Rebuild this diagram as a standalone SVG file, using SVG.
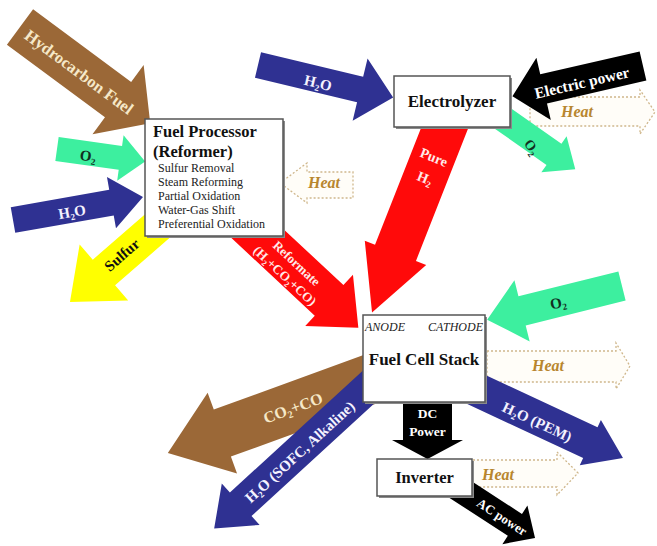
<svg xmlns="http://www.w3.org/2000/svg" width="657" height="546" viewBox="0 0 657 546">
<style>
text{font-family:"Liberation Serif","Times New Roman",serif;font-weight:bold}
.m{text-anchor:middle}
.brown{fill:#9b6837}
.green{fill:#3def9f}
.blue{fill:#2f3192}
.red{fill:#ff0a0a}
.yellow{fill:#ffff00}
.black{fill:#000}
.heat{fill:#fffdf8;stroke:#cfb78c;stroke-width:1.3;stroke-dasharray:2 2}
.ht{font-style:italic;fill:#b8862e;font-size:16px}
.cream{fill:#f6e8c8}
.wt{fill:#f4f2ff}
.dk{fill:#12301f}
.box{fill:#fff;stroke:#555;stroke-width:1.5}
.sh{fill:#8a8a8a}
.bt{fill:#111}
.it{font-weight:normal;fill:#222;font-size:12px}
.an{font-style:italic;font-weight:normal;fill:#222;font-size:12px}
</style>
<rect width="657" height="546" fill="#fff"/>
<g id="connectors">
  <g id="heat-fp">
    <polygon class="heat" points="280,183 307,163 307,172 353,172 353,198 307,198 307,203"/>
    <text class="ht m" x="324" y="188">Heat</text>
  </g>
  <g id="heat-el">
    <polygon class="heat" points="530,97 640,97 640,90 655,112 640,134 640,126 530,126"/>
    <text class="ht m" x="577" y="117">Heat</text>
  </g>
  <g id="heat-fcs">
    <polygon class="heat" points="487,351 616,351 616,343 630,366 616,389 616,382 487,382"/>
    <text class="ht m" x="548" y="371">Heat</text>
  </g>
  <g id="heat-inv">
    <polygon class="heat" points="473,460 557,460 557,452 578,473 557,495 557,487 473,487"/>
    <text class="ht m" x="498" y="480">Heat</text>
  </g>

  <g id="h2o-el">
    <path class="blue" transform="translate(258,65) rotate(13.5)" d="M0,-13 H105 V-32 L139,0 L105,32 V13 H0 Z"/>
    <text class="wt m" font-size="15" transform="translate(318,83) rotate(13.5)" y="5">H<tspan font-size="9" dy="3">2</tspan><tspan dy="-3">O</tspan></text>
  </g>
  <g id="elec-power">
    <path class="black" transform="translate(643,66) rotate(167)" d="M0,-15 H102 V-32 L134,0 L102,32 V15 H0 Z"/>
    <text class="m" fill="#fff" font-size="15.5" transform="translate(582,83) rotate(-13)" y="5">Electric power</text>
  </g>
  <g id="o2-el">
    <path class="green" transform="translate(495,113) rotate(35)" d="M0,-13 H72 V-22 L98,0 L72,22 V13 H0 Z"/>
    <text class="dk m" font-size="14" transform="translate(532,147) rotate(55)" y="5">O<tspan font-size="9" dy="3">2</tspan></text>
  </g>
  <g id="pure-h2">
    <path class="red" transform="translate(449,117) rotate(111.5)" d="M0,-22 H146 V-33 L210,0 L146,33 V22 H0 Z"/>
    <text class="m" fill="#ffeaea" font-size="14" transform="translate(434,157) rotate(22)" y="5">Pure</text>
    <text class="m" fill="#ffeaea" font-size="14" transform="translate(425,178) rotate(22)" y="5">H<tspan font-size="9" dy="3">2</tspan></text>
  </g>
  <g id="hydrocarbon">
    <path class="brown" transform="translate(20,27) rotate(36.5)" d="M0,-22 H122 V-43 L162,0 L122,43 V22 H0 Z"/>
    <text class="cream m" font-size="16.5" transform="translate(79,72) rotate(36.5)" y="5.5">Hydrocarbon Fuel</text>
  </g>
  <g id="o2-fp">
    <path class="green" transform="translate(57,149) rotate(8)" d="M0,-12 H64 V-23 L89,0 L64,23 V12 H0 Z"/>
    <text class="dk m" font-size="15" transform="translate(88,156) rotate(8)" y="5">O<tspan font-size="9" dy="3">2</tspan></text>
  </g>
  <g id="h2o-fp">
    <path class="blue" transform="translate(13,220) rotate(-10)" d="M0,-13 H100 V-26 L132,0 L100,26 V13 H0 Z"/>
    <text class="wt m" font-size="15" transform="translate(72,212) rotate(-10)" y="5">H<tspan font-size="9" dy="3">2</tspan><tspan dy="-3">O</tspan></text>
  </g>
  <g id="sulfur">
    <path class="yellow" transform="translate(164.3,220) rotate(139)" d="M0,-17 H80 V-37 L125,0 L80,37 V17 H0 Z"/>
    <text class="m" fill="#111" font-size="15" transform="translate(122,255) rotate(-41)" y="5">Sulfur</text>
  </g>
  <g id="reformate">
    <path class="red" transform="translate(215,194) rotate(43)" d="M0,-21 H156 V-35 L196,0 L156,35 V21 H0 Z"/>
    <text class="m" fill="#ffeaea" font-size="13" transform="translate(296.6,263.3) rotate(43)" y="4.5">Reformate</text>
    <text class="m" fill="#ffeaea" font-size="13" transform="translate(285,275.8) rotate(43)" y="4.5">(H<tspan font-size="8" dy="3">2</tspan><tspan dy="-3">+CO</tspan><tspan font-size="8" dy="3">2</tspan><tspan dy="-3">+CO)</tspan></text>
  </g>
  <g id="o2-fcs">
    <path class="green" transform="translate(622,286) rotate(166)" d="M0,-15 H103 V-31.5 L139,0 L103,31.5 V15 H0 Z"/>
    <text class="dk m" font-size="15" transform="translate(558,303) rotate(-12)" y="5">O<tspan font-size="9" dy="3">2</tspan></text>
  </g>
  <g id="co2-co">
    <path class="brown" transform="translate(375.5,377.3) rotate(160)" d="M0,-25 H163 V-43 L221,0 L163,43 V25 H0 Z"/>
    <text class="cream m" font-size="16" transform="translate(293,408) rotate(-20)" y="5.5">CO<tspan font-size="10" dy="3">2</tspan><tspan dy="-3">+CO</tspan></text>
  </g>
  <g id="h2o-sofc">
    <path class="blue" transform="translate(374.9,381.3) rotate(137.5)" d="M0,-16 H182 V-28 L218,0 L182,28 V16 H0 Z"/>
    <text class="wt m" font-size="15" transform="translate(300,452) rotate(-42.5)" y="5">H<tspan font-size="9" dy="3">2</tspan><tspan dy="-3">O (SOFC, Alkaline)</tspan></text>
  </g>
  <g id="dc-power">
    <path class="black" d="M403,400 H452 V440 H463 L427.5,459 L392,440 H403 Z"/>
    <text class="m" fill="#fff" font-size="13.5" x="427.5" y="418">DC</text>
    <text class="m" fill="#fff" font-size="13.5" x="427.5" y="436">Power</text>
  </g>
  <g id="h2o-pem">
    <path class="blue" transform="translate(461.1,382.4) rotate(25)" d="M0,-17 H142.6 V-25 L178.6,0 L142.6,25 V17 H0 Z"/>
    <text class="wt m" font-size="15" transform="translate(537,422) rotate(25)" y="5">H<tspan font-size="9" dy="3">2</tspan><tspan dy="-3">O (PEM)</tspan></text>
  </g>
  <g id="ac-power">
    <path class="black" transform="translate(452,484) rotate(33)" d="M0,-13 H75 V-23 L99,0 L75,23 V13 H0 Z"/>
    <text class="m" fill="#fff" font-size="13" transform="translate(502,517) rotate(33)" y="4.5">AC power</text>
  </g>
</g>
<g id="fuel-processor">
  <rect class="sh" x="147" y="121" width="138" height="117"/>
  <rect class="box" x="145" y="119" width="138" height="117"/>
  <text class="bt" font-size="16.5" x="153" y="137">Fuel Processor</text>
  <text class="bt" font-size="16.5" x="153" y="157">(Reformer)</text>
  <text class="it" x="158" y="172">Sulfur Removal</text>
  <text class="it" x="158" y="186">Steam Reforming</text>
  <text class="it" x="158" y="200">Partial Oxidation</text>
  <text class="it" x="158" y="214">Water-Gas Shift</text>
  <text class="it" x="158" y="228">Preferential Oxidation</text>
</g>
<g id="electrolyzer">
  <rect class="sh" x="396" y="78" width="116" height="51"/>
  <rect class="box" x="394" y="76" width="116" height="51"/>
  <text class="bt m" font-size="17" x="452" y="107">Electrolyzer</text>
</g>
<g id="fuel-cell-stack">
  <rect class="sh" x="365" y="317" width="122" height="87"/>
  <rect class="box" x="363" y="315" width="122" height="87"/>
  <text class="an" x="365" y="331">ANODE</text>
  <text class="an" x="483" y="331" text-anchor="end">CATHODE</text>
  <text class="bt m" font-size="17" x="424" y="365">Fuel Cell Stack</text>
</g>
<g id="inverter">
  <rect class="sh" x="379" y="461" width="95" height="37"/>
  <rect class="box" x="377" y="459" width="95" height="37"/>
  <text class="bt m" font-size="16.5" x="424.5" y="483">Inverter</text>
</g>
</svg>
